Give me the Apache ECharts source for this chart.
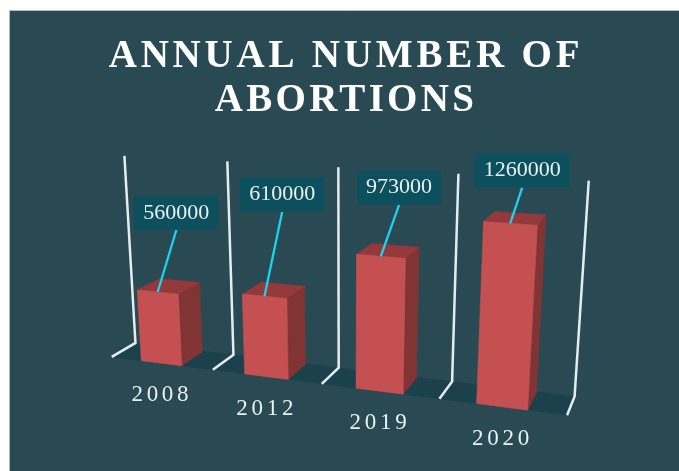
<!DOCTYPE html>
<html>
<head>
<meta charset="utf-8">
<style>html,body{margin:0;padding:0;background:#fff}#chart{width:679px;height:471px}</style>
<script src="https://cdn.jsdelivr.net/npm/echarts@6/dist/echarts.min.js"></script>
</head>
<body>
<div id="chart"></div>
<script>
// Annual number of abortions
const categories = ['2008', '2012', '2019', '2020'];
const abortions = [560000, 610000, 973000, 1260000];
const valueMax = 1500000;

// Callout position relative to the bar's top front edge, in pixels
const calloutOffsets = [[18.7, -62], [17.7, -84.3], [18.3, -51.5], [12, -35.7]];

const colors = {
  panel: '#294a53', edge: '#b4bcbe', floor: '#1b414d', wall: '#e6ecee',
  front: '#c55052', side: '#803434', top: '#93393b',
  callout: '#0c505e', leader: '#19d3f0', text: '#eaf0f1'
};

// Canvas text tracking, by string
const tracking = { 'ANNUAL NUMBER OF': 3.8, 'ABORTIONS': 3.3 };
categories.forEach(c => { tracking[c] = 3.7; });
const baseFillText = CanvasRenderingContext2D.prototype.fillText;
CanvasRenderingContext2D.prototype.fillText = function (t, x, y, m) {
  this.letterSpacing = (tracking[t] || 0) + 'px';
  return m === undefined ? baseFillText.call(this, t, x, y) : baseFillText.call(this, t, x, y, m);
};

// Perspective camera: three vanishing points plus the scene origin on screen.
// Scene axes: u along the categories, v = value in millions, w = depth.
const origin = [141.3, 360.7];
const vanishU = [-2600, 10], vanishV = [345, 3900], vanishW = [739, -13];
const weightU = -0.109, weightV = -0.035, weightW = 0.0378;
function project(u, v, w) {
  const a = weightU * u, b = weightV * v, c = weightW * w;
  const d = 1 + a + b + c;
  return [
    (origin[0] + a * vanishU[0] + b * vanishV[0] + c * vanishW[0]) / d,
    (origin[1] + a * vanishU[1] + b * vanishV[1] + c * vanishW[1]) / d
  ];
}

// The flat plot supplied by ECharts' axes is mapped onto the scene floor and walls
const plot = { left: 100, top: 60, width: 480, height: 300 };
const uStart = -0.1, uSpan = 4 / 3, wallDepth = 1.05, barDepth = 1;
const toU = px => uStart + (px - plot.left) / plot.width * uSpan;
const toV = py => (plot.top + plot.height - py) / plot.height * valueMax / 1e6;

const face = (points, fill) => ({
  type: 'polygon',
  shape: { points },
  style: { fill, stroke: fill, lineWidth: 0.6 }
});
const wallLine = (u, vTop) => ({
  type: 'polyline',
  shape: { points: [project(u, vTop, wallDepth), project(u, 0, wallDepth), project(u, 0, 0)] },
  style: { fill: null, stroke: colors.wall, lineWidth: 2.5, lineJoin: 'miter' }
});

function renderFloor(params, api) {
  const band = api.size([1, 0])[0];
  const left = toU(api.coord([0, 0])[0] - band / 2);
  const right = toU(api.coord([categories.length - 1, 0])[0] + band / 2);
  return face([project(left, 0, 0), project(right, 0, 0), project(right, 0, wallDepth), project(left, 0, wallDepth)], colors.floor);
}

function renderWalls(params, api) {
  const i = api.value(0);
  const band = api.size([1, 0])[0];
  const centre = api.coord([i, valueMax]);
  const vTop = toV(centre[1]);
  const children = [wallLine(toU(centre[0] - band / 2), vTop)];
  if (i === categories.length - 1) children.push(wallLine(toU(centre[0] + band / 2), vTop));
  return { type: 'group', children };
}

function renderBar(params, api) {
  const i = api.value(0);
  const value = api.value(1);
  const band = api.size([1, 0])[0];
  const top = api.coord([i, value]);
  const u0 = toU(top[0] - band * 0.2), u1 = toU(top[0] + band * 0.2);
  const v = toV(top[1]);
  const d = barDepth;

  const anchor = project((u0 + u1) / 2, v, 0);
  const floorPoint = project((u0 + u1) / 2, 0, 0);
  const tip = [anchor[0] + calloutOffsets[i][0], anchor[1] + calloutOffsets[i][1]];

  return {
    type: 'group',
    children: [
      face([project(u1, 0, 0), project(u1, 0, d), project(u1, v, d), project(u1, v, 0)], colors.side),
      face([project(u0, v, 0), project(u1, v, 0), project(u1, v, d), project(u0, v, d)], colors.top),
      face([project(u0, 0, 0), project(u1, 0, 0), project(u1, v, 0), project(u0, v, 0)], colors.front),
      {
        type: 'line',
        shape: { x1: anchor[0], y1: anchor[1], x2: tip[0], y2: tip[1] },
        style: { stroke: colors.leader, lineWidth: 2.3 }
      },
      {
        type: 'text',
        style: {
          x: tip[0], y: tip[1] - 17.3,
          text: String(value),
          align: 'center', verticalAlign: 'middle',
          font: '22px "Liberation Serif"',
          fill: colors.text,
          backgroundColor: colors.callout,
          padding: [6, 9, 6, 9]
        }
      },
      {
        type: 'text',
        style: {
          x: floorPoint[0] + 0.5, y: floorPoint[1] + 32,
          text: categories[i],
          align: 'center', verticalAlign: 'middle',
          font: '23px "Liberation Serif"',
          fill: colors.text
        }
      }
    ]
  };
}

const chart = echarts.init(document.getElementById('chart'));
chart.setOption({
  animation: false,
  backgroundColor: '#ffffff',
  graphic: [{
    type: 'rect', z: -10, silent: true,
    shape: { x: 9.5, y: 10.5, width: 680, height: 470 },
    style: { fill: colors.panel, stroke: colors.edge, lineWidth: 1 }
  }],
  title: {
    text: 'ANNUAL NUMBER OF\nABORTIONS',
    left: 341, top: 30, textAlign: 'center',
    textStyle: {
      fontFamily: 'Liberation Serif', fontSize: 39, fontWeight: 'bold',
      lineHeight: 44, color: '#ffffff', align: 'center'
    }
  },
  grid: plot,
  xAxis: { type: 'category', data: categories, show: false },
  yAxis: { type: 'value', min: 0, max: valueMax, interval: 300000, show: false },
  series: [
    { type: 'custom', name: 'floor', silent: true, clip: false, renderItem: renderFloor, data: [[0]] },
    { type: 'custom', name: 'walls', silent: true, clip: false, renderItem: renderWalls, data: categories.map((c, i) => [i]) },
    {
      type: 'custom', name: 'Abortions', clip: false, renderItem: renderBar,
      encode: { x: 0, y: 1 },
      data: abortions.map((v, i) => [i, v])
    }
  ]
});
</script>
</body>
</html>
